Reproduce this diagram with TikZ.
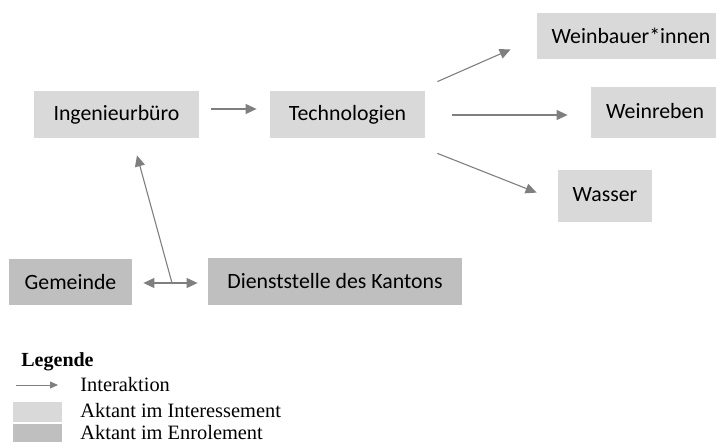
\documentclass[tikz,border=0pt]{standalone}
\usepackage{fontspec}
\setmainfont{Carlito}
\newfontfamily\legfont{Liberation Serif}
\usetikzlibrary{arrows.meta}
\definecolor{hellgrau}{HTML}{D9D9D9}
\definecolor{dunkelgrau}{HTML}{BFBFBF}
\definecolor{pfeilgrau}{HTML}{7F7F7F}
\tikzset{
    aktant/.style={rectangle,inner sep=0pt,font=\fontsize{10.9}{13}\selectfont},
    interesse/.style={aktant,fill=hellgrau},
    enrol/.style={aktant,fill=dunkelgrau},
    pfeil/.style={draw=pfeilgrau,line width=0.55pt,-{Triangle[length=5.5pt,width=5pt]}},
    legtext/.style={anchor=west,inner sep=0pt,font=\legfont\fontsize{10.2}{12}\selectfont}
}
\begin{document}
\begin{tikzpicture}[x=0.5pt,y=-0.5pt]
    \useasboundingbox (0,0) rectangle (716,442);
    \node[interesse,minimum width=82.5pt,minimum height=23.5pt] (ing) at (116.5,114.5) {Ingenieurbüro};
    \node[interesse,minimum width=77.5pt,minimum height=23.5pt] (tech) at (347.5,114.5) {Technologien};
    \node[interesse,minimum width=94pt,minimum height=23pt] (wb) at (631,36) {Weinbauer*innen};
    \node[interesse,minimum width=64pt,minimum height=25.5pt] (wr) at (655,112.5) {\raisebox{2pt}{Weinreben}};
    \node[interesse,minimum width=47pt,minimum height=26pt] (wa) at (605,196) {\raisebox{1pt}{Wasser}};
    \node[enrol,minimum width=61.5pt,minimum height=23pt] (gem) at (70.5,282) {Gemeinde};
    \node[enrol,minimum width=127pt,minimum height=23.5pt] (dst) at (335,281.5) {Dienststelle des Kantons};
    \draw[pfeil] ([shift={(12,-5.5)}]ing.east) -- ([shift={(-13,-5.5)}]tech.west);
    \draw[pfeil] ([shift={(12,-9)}]tech.north east) -- ([shift={(-26,-10)}]wb.south west);
    \draw[pfeil] ([shift={(27,0.5)}]tech.east) -- ([shift={(-23,2.5)}]wr.west);
    \draw[pfeil] ([shift={(12,15)}]tech.south east) -- ([shift={(-21,23)}]wa.north west);
    \draw[pfeil,{Triangle[length=5.5pt,width=5pt]}-{Triangle[length=5.5pt,width=5pt]}]
          ([shift={(11,1)}]gem.east) -- ([shift={(-10,1.5)}]dst.west);
    \coordinate (knoten) at (172,283);
    \draw[pfeil] (knoten) -- ([shift={(20.5,17)}]ing.south);
    \node[legtext,font=\legfont\bfseries\fontsize{10}{12}\selectfont] (leg) at (21,362) {Legende};
    \node[legtext] (l1) at (80,385) {Interaktion};
    \node[legtext] (l2) at (80,411) {Aktant im Interessement};
    \node[legtext] (l3) at (80,433) {Aktant im Enrolement};
    \draw[draw=pfeilgrau,line width=0.4pt,-{Triangle[length=4pt,width=3.5pt]}]
          ([shift={(-64,0)}]l1.west) -- ([shift={(-22,0)}]l1.west);
    \node[fill=hellgrau,inner sep=0pt,minimum width=24.5pt,minimum height=10pt] (k1) at (37.5,412) {};
    \node[fill=dunkelgrau,inner sep=0pt,minimum width=24.5pt,minimum height=10pt] (k2) at (37.5,434) {};
\end{tikzpicture}
\end{document}
